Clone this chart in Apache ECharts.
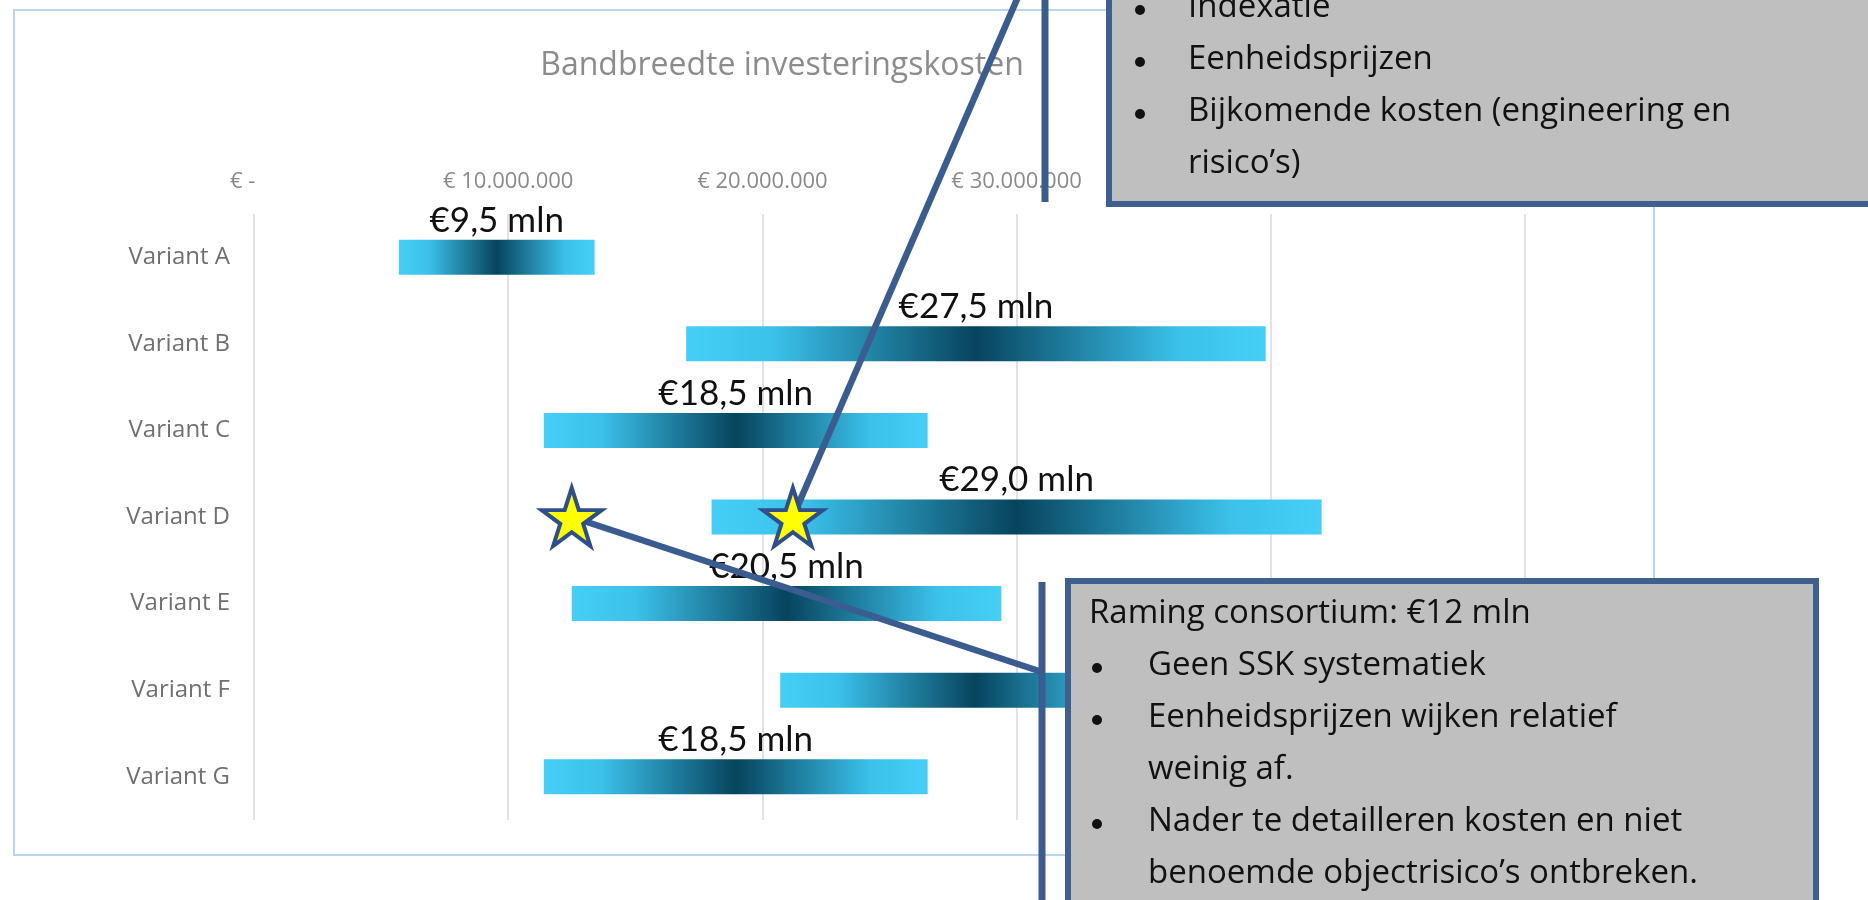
<!DOCTYPE html>
<html>
<head>
<meta charset="utf-8">
<title>Bandbreedte investeringskosten</title>
<script src="https://cdn.jsdelivr.net/npm/echarts@6.0.0/dist/echarts.min.js"></script>
<style>
  html, body { margin: 0; padding: 0; background: #fff; }
  #main { width: 1868px; height: 900px; }
</style>
</head>
<body>
<div id="main"></div>
<script>
// varianten en bandbreedte, in mln euro
const categories = ['Variant A', 'Variant B', 'Variant C', 'Variant D', 'Variant E', 'Variant F', 'Variant G'];
const rangeStart = [5.7, 17.0, 11.4, 18.0, 12.5, 20.7, 11.4];
const rangeEnd = [13.4, 39.8, 26.5, 42.0, 29.4, 36.0, 26.5];
const rangeLabels = ['€9,5 mln', '€27,5 mln', '€18,5 mln', '€29,0 mln', '€20,5 mln', '', '€18,5 mln'];
// accounting format, "€ -" has trailing padding
const xTickLabels = ['€ -    ', '€ 10.000.000', '€ 20.000.000', '€ 30.000.000', '€ 40.000.000', '€ 50.000.000'];
// sterren bij variant D (raming consortium en SSK raming)
const starValues = [12.5, 21.2];
const starCategory = 'Variant D';

// tekst in de callouts
const topNotes = [
  { bullet: true, text: 'Indexatie' },
  { bullet: true, text: 'Eenheidsprijzen' },
  { bullet: true, text: 'Bijkomende kosten (engineering en' },
  { bullet: false, text: 'risico’s)' }
];
const bottomNotes = [
  { bullet: false, head: true, text: 'Raming consortium: €12 mln' },
  { bullet: true, text: 'Geen SSK systematiek' },
  { bullet: true, text: 'Eenheidsprijzen wijken relatief' },
  { bullet: false, text: 'weinig af.' },
  { bullet: true, text: 'Nader te detailleren kosten en niet' },
  { bullet: false, text: 'benoemde objectrisico’s ontbreken.' }
];

const container = document.getElementById('main');
const myChart = echarts.init(container);

const lineBlue = '#3b5c90';
const noteFont = '33px "Open Sans"';
const starPath = 'path://M50,0 L61.2,34.5 L97.6,34.5 L68.2,55.9 L79.4,90.5 L50,69.1 L20.6,90.5 L31.8,55.9 L2.4,34.5 L38.8,34.5 Z';

const barColor = new echarts.graphic.LinearGradient(0, 0, 1, 0, [
  { offset: 0, color: '#45cff6' },
  { offset: 0.15, color: '#3bc1ea' },
  { offset: 0.5, color: '#07445e' },
  { offset: 0.85, color: '#3bc1ea' },
  { offset: 1, color: '#45cff6' }
]);

myChart.setOption({
  animation: false,
  backgroundColor: '#fff',
  grid: { left: 254, right: 343, top: 214, bottom: 80 },
  xAxis: {
    type: 'value',
    position: 'top',
    min: 0,
    max: 50,
    interval: 10,
    axisLine: { show: false },
    axisTick: { show: false },
    axisLabel: {
      color: '#8a8a8a',
      fontFamily: 'Open Sans',
      fontSize: 22,
      margin: 21,
      formatter: v => xTickLabels[Math.round(v / 10)]
    },
    splitLine: { lineStyle: { color: '#d9d9d9', width: 1.5 } }
  },
  yAxis: {
    type: 'category',
    data: categories,
    inverse: true,
    axisLine: { show: false },
    axisTick: { show: false },
    axisLabel: { color: '#707070', fontFamily: 'Open Sans', fontSize: 24, margin: 24 }
  },
  series: [
    {
      type: 'bar',
      stack: 'band',
      data: rangeStart,
      barWidth: 35,
      itemStyle: { color: 'transparent' },
      emphasis: { disabled: true },
      silent: true
    },
    {
      type: 'bar',
      stack: 'band',
      data: rangeEnd.map((v, i) => +(v - rangeStart[i]).toFixed(2)),
      barWidth: 35,
      itemStyle: { color: barColor },
      label: {
        show: true,
        position: 'top',
        distance: 2,
        color: '#111',
        fontFamily: 'Lato',
        fontSize: 35,
        formatter: p => rangeLabels[p.dataIndex]
      }
    },
    {
      type: 'scatter',
      z: 10,
      data: starValues.map(v => [v, starCategory]),
      symbol: starPath,
      symbolSize: [60, 58],
      itemStyle: { color: '#ffff00', opacity: 1, borderColor: '#2e4f8c', borderWidth: 4 }
    }
  ]
});

// leader lines start at the stars
const row = categories.indexOf(starCategory);
const p1 = myChart.convertToPixel({ gridIndex: 0 }, [starValues[0], row]);
const p2 = myChart.convertToPixel({ gridIndex: 0 }, [starValues[1], row]);

const graphics = [
  { type: 'rect', z: 0, shape: { x: 14, y: 10, width: 1640, height: 845 },
    style: { fill: 'none', stroke: '#b9d6ee', lineWidth: 2 } },
  { type: 'text', z: 1,
    style: { text: 'Bandbreedte investeringskosten', x: 782, y: 66, align: 'center', verticalAlign: 'middle',
             font: '32px "Open Sans"', fill: '#8c8c8c' } },
  { type: 'line', z: 5, shape: { x1: p2[0], y1: p2[1], x2: 1021, y2: -10 },
    style: { stroke: lineBlue, lineWidth: 6.5 } },
  { type: 'line', z: 5, shape: { x1: p1[0], y1: p1[1], x2: 1042, y2: 672 },
    style: { stroke: lineBlue, lineWidth: 6.5 } },
  { type: 'line', z: 20, shape: { x1: 1045, y1: -5, x2: 1045, y2: 202 },
    style: { stroke: lineBlue, lineWidth: 7 } },
  { type: 'line', z: 20, shape: { x1: 1042, y1: 582, x2: 1042, y2: 905 },
    style: { stroke: lineBlue, lineWidth: 7 } },
  { type: 'rect', z: 20, shape: { x: 1109, y: -30, width: 800, height: 234 },
    style: { fill: '#bfbfbf', stroke: '#3f5f8f', lineWidth: 6 } },
  { type: 'rect', z: 20, shape: { x: 1068, y: 581, width: 748, height: 400 },
    style: { fill: '#bfbfbf', stroke: '#3f5f8f', lineWidth: 6 } }
];

function addNotes(notes, bulletX, textX, firstY, step) {
  notes.forEach((n, i) => {
    const y = firstY + i * step;
    if (n.bullet) {
      graphics.push({ type: 'circle', z: 21, shape: { cx: bulletX, cy: y + 2, r: 5 }, style: { fill: '#111' } });
    }
    graphics.push({ type: 'text', z: 21,
      style: { text: n.text, x: n.head ? bulletX - 8 : textX, y: y, verticalAlign: 'middle', font: noteFont, fill: '#111' } });
  });
}
addNotes(topNotes, 1140, 1188, 8, 52);
addNotes(bottomNotes, 1097, 1148, 614, 52);

myChart.setOption({ graphic: { elements: graphics } });

let resizeObserver = new ResizeObserver(() => myChart?.resize());
resizeObserver.observe(container);
</script>
</body>
</html>
